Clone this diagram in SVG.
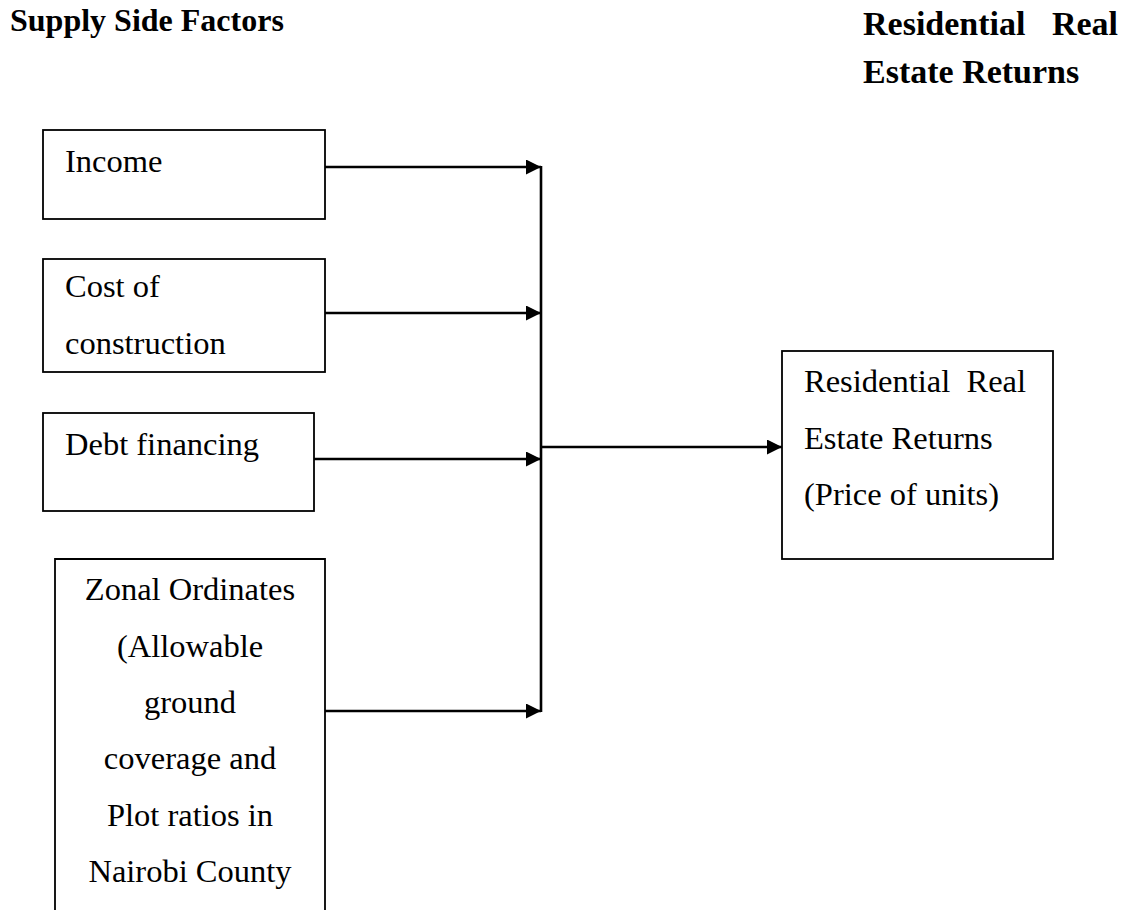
<svg xmlns="http://www.w3.org/2000/svg" width="1133" height="910" viewBox="0 0 1133 910">
<style>
.box{fill:#fff;stroke:#000;stroke-width:1.8}
.t{font-family:"Liberation Serif",serif;font-size:32.5px;fill:#000}
.c{text-anchor:middle}
.h{font-family:"Liberation Serif",serif;font-weight:bold;fill:#000}
.ln{stroke:#000;stroke-width:2.6;fill:none}
</style>
<defs>
<marker id="ah" markerUnits="userSpaceOnUse" markerWidth="16" markerHeight="16" refX="15" refY="7.5" orient="auto">
<path d="M0,0 L15,7.5 L0,15 z" fill="#000"/>
</marker>
</defs>
<rect width="1133" height="910" fill="#fff"/>
<g id="headings">
<text class="h" x="10" y="31" font-size="32">Supply Side Factors</text>
<text class="h" x="863" y="35" font-size="34">Residential</text>
<text class="h" x="1118" y="35" font-size="34" text-anchor="end">Real</text>
<text class="h" x="863" y="83" font-size="34">Estate Returns</text>
</g>
<g id="connectors">
<line class="ln" x1="325" y1="167" x2="541" y2="167" marker-end="url(#ah)"/>
<line class="ln" x1="325" y1="313" x2="541" y2="313" marker-end="url(#ah)"/>
<line class="ln" x1="314" y1="459" x2="541" y2="459" marker-end="url(#ah)"/>
<line class="ln" x1="325" y1="711" x2="541" y2="711" marker-end="url(#ah)"/>
<line class="ln" x1="541" y1="166" x2="541" y2="712"/>
<line class="ln" x1="541" y1="447" x2="782" y2="447" marker-end="url(#ah)"/>
</g>
<g id="income">
<rect class="box" x="43" y="130" width="282" height="89"/>
<text class="t" x="65" y="172">Income</text>
</g>
<g id="cost">
<rect class="box" x="43" y="259" width="282" height="113"/>
<text class="t" x="65" y="297">Cost of</text>
<text class="t" x="65" y="354">construction</text>
</g>
<g id="debt">
<rect class="box" x="43" y="413" width="271" height="98"/>
<text class="t" x="65" y="455">Debt financing</text>
</g>
<g id="zonal">
<path class="box" d="M55,912 L55,559 L325,559 L325,912"/>
<text class="t c" x="190" y="600">Zonal Ordinates</text>
<text class="t c" x="190" y="657">(Allowable</text>
<text class="t c" x="190" y="713">ground</text>
<text class="t c" x="190" y="769">coverage and</text>
<text class="t c" x="190" y="826">Plot ratios in</text>
<text class="t c" x="190" y="882">Nairobi County</text>
</g>
<g id="returns">
<rect class="box" x="782" y="351" width="271" height="208"/>
<text class="t" x="804" y="392" xml:space="preserve">Residential  Real</text>
<text class="t" x="804" y="449">Estate Returns</text>
<text class="t" x="804" y="505">(Price of units)</text>
</g>
</svg>
